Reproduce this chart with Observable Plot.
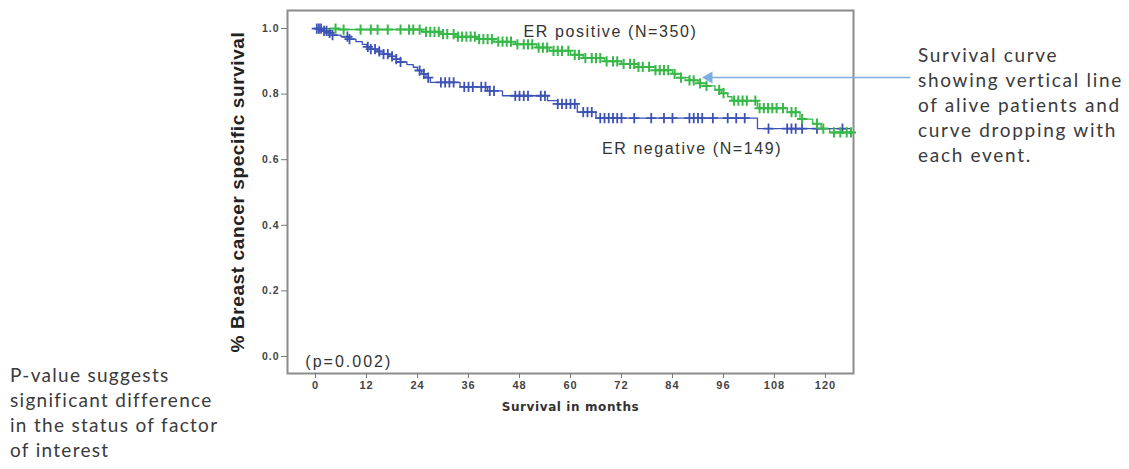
<!DOCTYPE html>
<html>
<head>
<meta charset="utf-8">
<script src="https://cdn.jsdelivr.net/npm/d3@7"></script>
<script src="https://cdn.jsdelivr.net/npm/@observablehq/plot@0.6"></script>
<style>
  html, body { margin: 0; padding: 0; background: #fff; }
  #wrap { position: relative; width: 1129px; height: 469px; overflow: hidden; }
  #chart { position: absolute; left: 0; top: 0; }
  .note { position: absolute; font-family: Lato, "Open Sans", sans-serif; font-size: 19px; letter-spacing: 1.3px; line-height: 25px; color: #3a3a3a; white-space: nowrap; }
</style>
</head>
<body>
<div id="wrap">
  <div id="chart"></div>
  <div class="note" id="noteRight" style="left:918px; top:42px; letter-spacing:1.7px;"></div>
  <div class="note" id="noteLeft" style="left:10px; top:362px;"></div>
</div>
<script>
// ER negative (N=149) Kaplan-Meier steps
const negTime = [0, 1.5, 3, 4, 6, 8, 9.5, 11, 12, 13, 14.5, 16, 17.5, 19, 20, 21.5, 23, 24, 25, 26, 27, 34, 40.5, 44, 54.6, 57, 61.6, 66, 104, 126];
const negSurv = [1, 0.993, 0.987, 0.98, 0.975, 0.968, 0.96, 0.952, 0.944, 0.937, 0.93, 0.922, 0.915, 0.907, 0.898, 0.89, 0.882, 0.872, 0.862, 0.85, 0.836, 0.822, 0.81, 0.795, 0.78, 0.77, 0.745, 0.727, 0.695, 0.695];
const negCensor = [0.3, 0.8, 1.3, 2, 2.6, 3.3, 4, 7.5, 8, 12.3, 13, 14, 15, 16, 17, 18, 19, 20, 24.5, 25.5, 26.5, 29.5, 30.5, 31.5, 32.5, 35, 36, 37, 39, 40, 41, 42, 47, 48, 49, 50, 53, 54, 57, 58, 59, 60, 61, 63, 64, 65, 67, 68, 69, 70, 71, 72, 75, 79, 82, 84, 88, 89, 90, 91, 93.5, 97, 99, 101, 106.6, 111, 112, 113, 114.5, 118, 124];

// ER positive (N=350) Kaplan-Meier steps
const posTime = [0, 5, 25, 30, 33, 38, 42, 47, 52, 55, 60, 63, 68, 72, 76, 80, 84, 86, 88, 90, 92, 94, 95.5, 97, 98, 104, 111, 114, 117, 119, 121, 126.5];
const posSurv = [1, 0.997, 0.99, 0.983, 0.975, 0.968, 0.96, 0.952, 0.942, 0.932, 0.92, 0.91, 0.9, 0.892, 0.883, 0.873, 0.862, 0.85, 0.842, 0.833, 0.825, 0.813, 0.803, 0.792, 0.78, 0.757, 0.745, 0.724, 0.71, 0.695, 0.683, 0.683];
const posCensor = [4.7, 6.6, 10.6, 13, 14.6, 17, 20, 22, 23, 24.5, 26, 27, 28, 29, 30, 31, 32.5, 33.5, 34.5, 35.5, 36.5, 37.5, 38.5, 39.5, 40.5, 41.5, 43, 44, 45, 46, 47.5, 49, 50, 51, 52.5, 53.5, 54.5, 56, 57, 58, 59.5, 61, 62, 63.5, 65, 66, 67, 68.5, 70, 71, 72.5, 74, 75, 76, 77, 78.5, 80, 81, 82, 83, 84.5, 86, 88, 89, 90.5, 92, 95, 96, 98.5, 99.5, 100.5, 101.5, 103.5, 104.5, 105.5, 106.5, 107.5, 108.5, 110, 112, 113, 114.5, 118, 119.5, 122, 123.5, 125, 126];

const xTicks = [0, 12, 24, 36, 48, 60, 72, 84, 96, 108, 120];
const yTicks = [0, 0.2, 0.4, 0.6, 0.8, 1.0];

const seriesLabels = ["ER positive (N=350)", "ER negative (N=149)"];
const seriesLabelX = [69.4, 88.6];
const seriesLabelY = [0.99, 0.634];
const pText = "(p=0.002)";
const xTitle = "Survival in months";
const yTitle = "% Breast cancer specific survival";
const noteRight = ["Survival curve", "showing vertical line", "of alive patients and", "curve dropping with", "each event."];
const noteLeft = ["P-value suggests", "significant difference", "in the status of factor", "of interest"];
// arrow pointing at ER positive curve
const arrowFrom = [140, 0.851];
const arrowTo = [92.6, 0.851];

const GREEN = "#36b948";
const BLUE = "#3d52b5";
const ARROW = "#7eaee0";

function stepAt(times, surv, t) {
  let v = surv[0];
  for (let i = 0; i < times.length; i++) { if (times[i] <= t) v = surv[i]; else break; }
  return v;
}
const negLine = negTime.map((t, i) => ({t, s: negSurv[i]}));
const posLine = posTime.map((t, i) => ({t, s: posSurv[i]}));
const negC = negCensor.map(t => ({t, s: stepAt(negTime, negSurv, t)}));
const posC = posCensor.map(t => ({t, s: stepAt(posTime, posSurv, t)}));
const labels = seriesLabels.map((l, i) => ({l, x: seriesLabelX[i], y: seriesLabelY[i]}));

const chart = Plot.plot({
  width: 1129,
  height: 469,
  marginLeft: 287,
  marginRight: 276,
  marginTop: 10,
  marginBottom: 96,
  x: {domain: [-6.6, 126.6], ticks: xTicks},
  y: {domain: [-0.052, 1.055], ticks: yTicks},
  style: {fontFamily: "'Liberation Sans', Arial, sans-serif", color: "#333", background: "white"},
  marks: [
    Plot.frame({stroke: "#8c8c8c", strokeWidth: 2}),
    Plot.axisX({ticks: xTicks, tickSize: 5, tickPadding: 3, label: null, fontSize: 11, fontWeight: "bold", stroke: "#777", fill: "#444"}),
    Plot.axisY({ticks: yTicks, tickSize: 6, tickPadding: 2, label: null, tickFormat: d3.format(".1f"), fontSize: 10.5, fontWeight: "bold", stroke: "#777", fill: "#444"}),
    Plot.text([yTitle], {frameAnchor: "left", textAnchor: "middle", rotate: -90, dx: -50, fontSize: 19, fontWeight: "bold", fill: "#222"}),
    Plot.text([xTitle], {frameAnchor: "bottom", textAnchor: "middle", dy: 37, fontSize: 12, fontWeight: "bold", fill: "#333", fontFamily: "'DejaVu Sans', sans-serif"}),
    Plot.line(posLine, {x: "t", y: "s", curve: "step-after", stroke: GREEN, strokeWidth: 1.3}),
    Plot.line(negLine, {x: "t", y: "s", curve: "step-after", stroke: BLUE, strokeWidth: 1.3}),
    Plot.dot(negC, {x: "t", y: "s", symbol: "plus", r: 3.4, stroke: BLUE, strokeWidth: 1.8}),
    Plot.dot(posC, {x: "t", y: "s", symbol: "plus", r: 3.4, stroke: GREEN, strokeWidth: 2}),
    Plot.text(labels, {x: "x", y: "y", text: "l", fontSize: 16, fill: "#333"}),
    Plot.text([pText], {x: -2.4, y: -0.018, textAnchor: "start", fontSize: 16, fill: "#333"}),
    Plot.link([{x1: arrowFrom[0], y1: arrowFrom[1], x2: arrowTo[0], y2: arrowTo[1]}], {x1: "x1", y1: "y1", x2: "x2", y2: "y2", stroke: ARROW, strokeWidth: 1.5, clip: false}),
    Plot.dot([{x: arrowTo[0], y: arrowTo[1]}], {x: "x", y: "y", symbol: "triangle", r: 3.5, rotate: -90, fill: ARROW, stroke: ARROW})
  ]
});
// letter spacing to match the wide rendering of the reference
d3.select(chart).selectAll("text").each(function() {
  const t = this.textContent;
  if (seriesLabels.includes(t)) this.style.letterSpacing = "1.6px";
  else if (t === pText) this.style.letterSpacing = "2px";
  else if (t === xTitle) this.style.letterSpacing = "0.6px";
  else if (t === yTitle) this.style.letterSpacing = "0.6px";
  else this.style.letterSpacing = "1px";
});
document.getElementById("chart").appendChild(chart);
document.getElementById("noteRight").innerHTML = noteRight.join("<br>");
document.getElementById("noteLeft").innerHTML = noteLeft.join("<br>");
</script>
</body>
</html>
